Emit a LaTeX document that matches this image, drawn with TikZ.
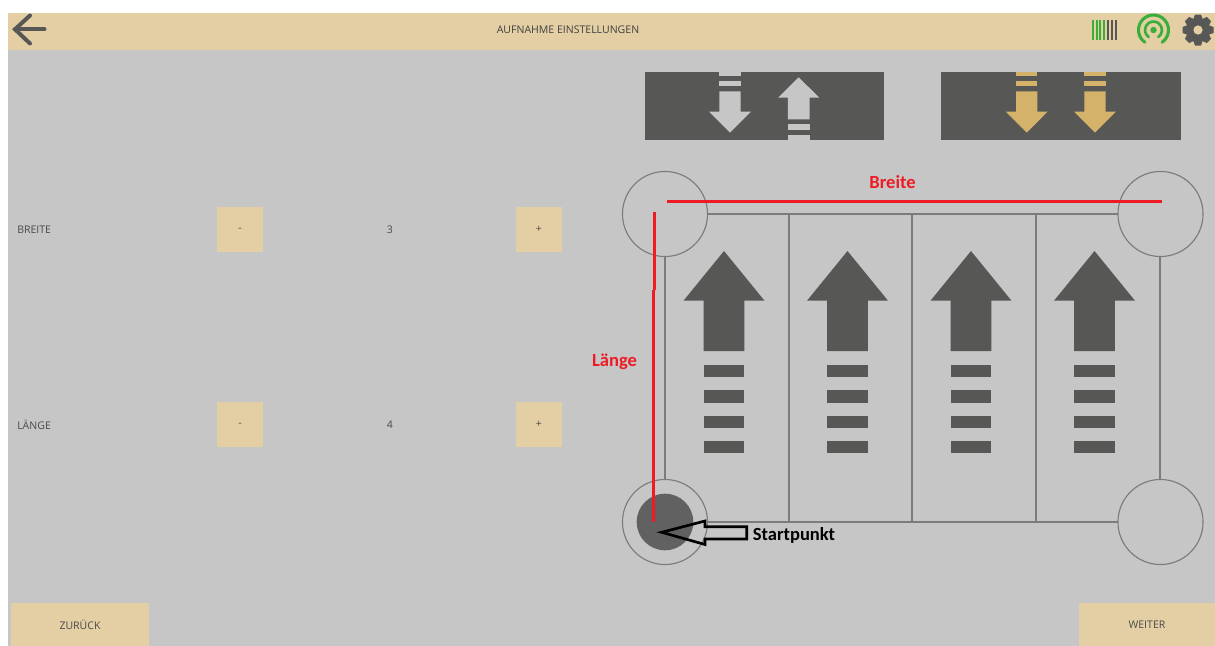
\documentclass[tikz,border=0pt]{standalone}
\usepackage{fontspec}
\setmainfont{Open Sans}
\newfontfamily\notefont{Carlito}
\definecolor{beige}{HTML}{E4CFA5}
\definecolor{panel}{HTML}{C6C6C6}
\definecolor{dark}{HTML}{575756}
\definecolor{gridc}{HTML}{7C7C7C}
\definecolor{gold}{HTML}{D4B26A}
\definecolor{redm}{HTML}{ED1C24}
\definecolor{okgreen}{HTML}{3AAE3A}
\definecolor{uitext}{HTML}{4A4A4A}
\tikzset{
  x=0.75pt,y=-0.75pt,
  btn/.style={fill=beige,draw=none,inner sep=0pt,text=uitext,font=\fontsize{7.9}{9}\selectfont},
  uilabel/.style={text=uitext,font=\fontsize{7.9}{9}\selectfont,inner sep=0pt},
  corner/.style={circle,draw=gridc,line width=0.85pt,minimum size=63.8pt,inner sep=0pt},
  gridline/.style={draw=gridc,line width=1.5pt},
  redline/.style={draw=redm,line width=2.5pt},
  rednote/.style={text=redm,font=\notefont\bfseries\fontsize{13.9}{15}\selectfont,inner sep=0pt},
}
% vertical lane arrow: x centre
\newcommand{\lanearrow}[1]{%
  \fill[dark] (#1,251) -- (#1+40.5,300.7) -- (#1+20.3,300.7) -- (#1+20.3,351) -- (#1-20.3,351) -- (#1-20.3,300.7) -- (#1-40.5,300.7) -- cycle;
  \foreach \yy in {364.5,390,415.5,440.5} \fill[dark] (#1-20.3,\yy) rectangle (#1+20.3,\yy+12.7);
}
\newcommand{\downicon}[2]{%
  \fill[#2] (#1-10.7,72) rectangle (#1+10.7,75.7);
  \fill[#2] (#1-10.7,80.7) rectangle (#1+10.7,86);
  \fill[#2] (#1-10.7,91.3) -- (#1+10.7,91.3) -- (#1+10.7,111.7) -- (#1+20.8,111.7) -- (#1,132.7) -- (#1-20.8,111.7) -- (#1-10.7,111.7) -- cycle;
}
\newcommand{\upicon}[2]{%
  \fill[#2] (#1-10.8,135) rectangle (#1+10.8,139.5);
  \fill[#2] (#1-10.8,124.3) rectangle (#1+10.8,130);
  \fill[#2] (#1-10.8,119.3) -- (#1+10.8,119.3) -- (#1+10.8,97.7) -- (#1+20.6,97.7) -- (#1,77.3) -- (#1-20.6,97.7) -- (#1-10.8,97.7) -- cycle;
}
\begin{document}
\begin{tikzpicture}
\useasboundingbox (0,0) rectangle (1215,646);
\fill[white] (0,0) rectangle (1215,646);
\fill[panel] (8,50) rectangle (1215,646);
\fill[beige] (8,13) rectangle (1215,50);

% back arrow
\draw[dark,line width=3pt,line cap=round,line join=miter] (30,15.5) -- (15,29.3) -- (30,43.5);
\draw[dark,line width=3pt,line cap=round] (15,29.3) -- (44.5,29.3);

\node[uilabel,text=black!75] (title) at (568,30) {AUFNAHME EINSTELLUNGEN};

% barcode
\foreach \bx in {1093,1096.7,1100.4,1104}
  \draw[okgreen,line width=1.4pt] (\bx,20) -- (\bx,39.5);
\foreach \bx in {1108,1112,1116}
  \draw[dark,line width=1.4pt] (\bx,20) -- (\bx,39.5);

% signal icon
\fill[okgreen] (1153.5,30) circle[radius=3.2];
\draw[okgreen,line width=2pt,line cap=round] (1153.5,30) ++(125:8.5) arc[start angle=125,end angle=415,radius=8.5];
\draw[okgreen,line width=2.3pt,line cap=round] (1153.5,30) ++(125:15) arc[start angle=125,end angle=415,radius=15];

% gear
\fill[dark] (1198,30) circle[radius=11.5];
\foreach \ang in {0,45,...,315}
  \fill[dark,rotate around={\ang:(1198,30)}] (1195,14.5) -- (1201,14.5) -- (1203,20) -- (1193,20) -- cycle;
\fill[beige] (1198,30) circle[radius=4.6];

% top buttons
\fill[dark] (645,72) rectangle (884,139.5);
\fill[dark] (941,72) rectangle (1180.5,139.5);
\downicon{730}{panel}
\upicon{798.7}{panel}
\downicon{1026.7}{gold}
\downicon{1095}{gold}

% settings rows
\node[uilabel,anchor=west] (breite) at (17,230) {BREITE};
\node[btn,minimum width=34.5pt,minimum height=33.8pt] (bminus) at (240,229.5) {-};
\node[uilabel] (bval) at (390,230) {3};
\node[btn,minimum width=34.5pt,minimum height=33.8pt] (bplus) at (539,229.5) {+};
\node[uilabel,anchor=west] (laenge) at (17,425) {LÄNGE};
\node[btn,minimum width=34.5pt,minimum height=33.8pt] (lminus) at (240,424.5) {-};
\node[uilabel] (lval) at (390,425) {4};
\node[btn,minimum width=34.5pt,minimum height=33.8pt] (lplus) at (539,424.5) {+};

% nav buttons
\node[btn,minimum width=103.5pt,minimum height=32.3pt] (zurueck) at (80,624.5) {ZURÜCK};
\node[btn,minimum width=102pt,minimum height=32.3pt] (weiter) at (1147,624.5) {WEITER};

% grid
\coordinate (tl) at (665,214);
\coordinate (tr) at (1159.5,214);
\coordinate (bl) at (665,522);
\coordinate (br) at (1159.5,522);
\coordinate (t1) at (788.5,214);
\coordinate (t2) at (912,214);
\coordinate (t3) at (1035.5,214);
\coordinate (b1) at (788.5,522);
\coordinate (b2) at (912,522);
\coordinate (b3) at (1035.5,522);
\draw[gridline] (tl) -- (tr) -- (br) -- (bl) -- cycle;
\draw[gridline] (t1) -- (b1);
\draw[gridline] (t2) -- (b2);
\draw[gridline] (t3) -- (b3);
\lanearrow{724}
\lanearrow{847.5}
\lanearrow{971}
\lanearrow{1094.5}

% corner circles
\node[corner,fill=panel] (ctl) at (665,214) {};
\node[corner,fill=panel] (ctr) at (1160.5,214) {};
\node[corner,fill=panel] (cbr) at (1160.5,522) {};
\node[corner,fill=panel] (cbl) at (665,522) {};
\fill[black!62] (cbl.center) circle[radius=28.3];

% red annotations
\coordinate (bs) at (667,201.5);
\coordinate (be) at (1162,201.5);
\coordinate (ls) at (654.5,212);
\coordinate (lm) at (654.5,290);
\coordinate (ln) at (653.5,290);
\coordinate (le) at (653.5,522);
\draw[redline] (bs) -- (be);
\draw[redline] (ls) -- (lm);
\draw[redline] (ln) -- (le);
\node[rednote] (breitenote) at (892.5,182.5) {Breite};
\node[rednote] (laengenote) at (614.5,362) {Länge};

% start arrow
\draw[black,line width=2pt,line join=miter] (661.7,532.3) -- (705,521) -- (705,526.7) -- (746.7,526.7) -- (746.7,539) -- (705,539) -- (705,544.5) -- cycle;
\node[text=black,font=\notefont\bfseries\fontsize{13.9}{15}\selectfont,inner sep=0pt] (start) at (794,535) {Startpunkt};
\end{tikzpicture}
\end{document}
